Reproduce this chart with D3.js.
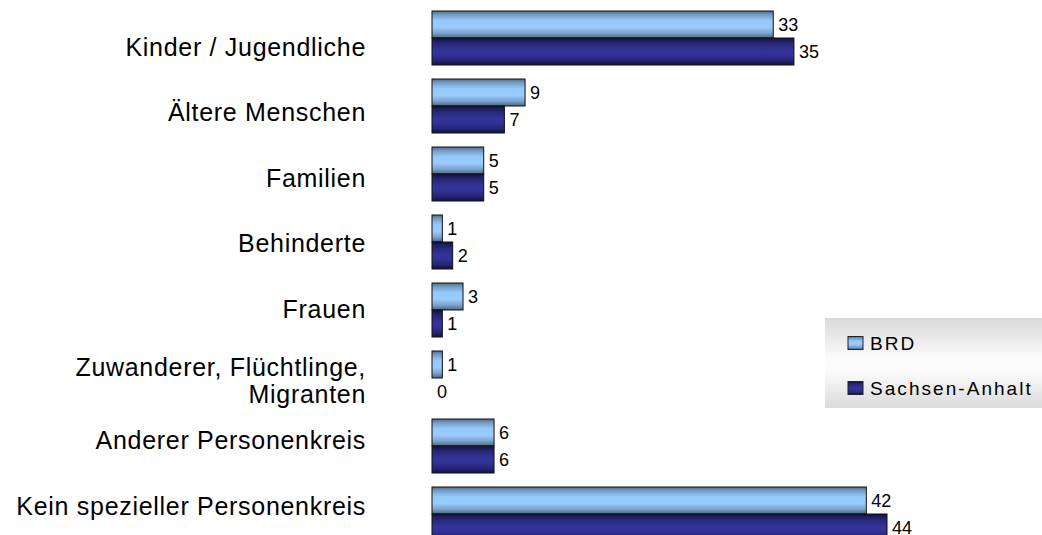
<!DOCTYPE html>
<html>
<head>
<meta charset="utf-8">
<script src="https://cdn.jsdelivr.net/npm/d3@7"></script>
<style>
  html, body { margin: 0; padding: 0; background: #ffffff; }
  svg { display: block; font-family: "Liberation Sans", Arial, sans-serif; }
</style>
</head>
<body>
<svg id="chart" width="1042" height="535"></svg>
<script>
const categories = [
  "Kinder / Jugendliche",
  "Ältere Menschen",
  "Familien",
  "Behinderte",
  "Frauen",
  "Zuwanderer, Flüchtlinge,\nMigranten",
  "Anderer Personenkreis",
  "Kein spezieller Personenkreis"
];
const seriesNames = ["BRD", "Sachsen-Anhalt"];
const brdValues = [33, 9, 5, 1, 3, 1, 6, 42];
const sachsenAnhaltValues = [35, 7, 5, 2, 1, 0, 6, 44];

const svg = d3.select("#chart");

const defs = svg.append("defs");
function vGrad(id, stops) {
  const g = defs.append("linearGradient").attr("id", id)
    .attr("x1", 0).attr("y1", 0).attr("x2", 0).attr("y2", 1);
  stops.forEach(s => g.append("stop").attr("offset", s[0]).attr("stop-color", s[1]));
}
vGrad("gBRD", [[0, "#4f6a86"], [0.12, "#7197bf"], [0.35, "#96c8fa"], [0.6, "#99ccff"], [0.82, "#7ba3cc"], [1, "#4a6580"]]);
vGrad("gSA", [[0, "#131340"], [0.2, "#272778"], [0.45, "#333399"], [0.65, "#313195"], [0.85, "#242470"], [1, "#121240"]]);
vGrad("gLegend", [[0, "#d9d9d9"], [0.45, "#fbfbfb"], [0.6, "#fbfbfb"], [1, "#dadada"]]);

const fills = { "BRD": "url(#gBRD)", "Sachsen-Anhalt": "url(#gSA)" };

const x = d3.scaleLinear().domain([0, 44]).range([432, 887]);
const y = d3.scaleBand().domain(categories).range([4, 4 + 68 * categories.length])
  .paddingInner(14 / 68).paddingOuter(7 / 68);
const ySub = d3.scaleBand().domain(seriesNames).range([0, y.bandwidth()]);
const yLabel = d3.scalePoint().domain(categories).range([47, 506]);

const rows = categories.map((c, i) => ({
  cat: c,
  vals: [
    { s: "BRD", v: brdValues[i] },
    { s: "Sachsen-Anhalt", v: sachsenAnhaltValues[i] }
  ]
}));

const g = svg.append("g");
const grp = g.selectAll("g.cat").data(rows).join("g")
  .attr("class", "cat")
  .attr("transform", d => `translate(0,${y(d.cat)})`);

grp.selectAll("rect").data(d => d.vals).join("rect")
  .attr("x", x(0))
  .attr("y", d => ySub(d.s))
  .attr("width", d => x(d.v) - x(0))
  .attr("height", ySub.bandwidth())
  .attr("fill", d => fills[d.s])
  .attr("stroke", d => d.v > 0 ? "#111" : "none")
  .attr("stroke-width", 1);

grp.selectAll("text.val").data(d => d.vals).join("text")
  .attr("class", "val")
  .attr("x", d => x(d.v) + 5)
  .attr("y", d => ySub(d.s) + ySub.bandwidth() / 2)
  .attr("dy", "0.35em")
  .attr("font-size", 18)
  .attr("fill", "#000")
  .text(d => d.v);

// Category labels
const lab = g.selectAll("text.cat").data(categories).join("text")
  .attr("class", "cat")
  .attr("text-anchor", "end")
  .attr("font-size", 25)
  .attr("letter-spacing", 0.7)
  .attr("fill", "#000")
  .attr("x", 366)
  .attr("y", d => yLabel(d));
lab.each(function(d) {
  const lines = d.split("\n");
  const t = d3.select(this);
  const lh = 26.3;
  lines.forEach((ln, k) => {
    t.append("tspan")
      .attr("x", 366)
      .attr("y", yLabel(d) + (k - (lines.length - 1) / 2) * lh + 6 * (lines.length - 1))
      .attr("dy", "0.35em")
      .text(ln);
  });
});

// Legend
const leg = svg.append("g").attr("transform", "translate(825,318)");
leg.append("rect").attr("x", 0).attr("y", 0).attr("width", 230).attr("height", 90)
  .attr("fill", "url(#gLegend)");
const legItems = leg.selectAll("g.item").data(seriesNames).join("g")
  .attr("class", "item")
  .attr("transform", (d, i) => `translate(23,${25 + i * 45})`);
legItems.append("rect").attr("x", 0).attr("y", -6.5).attr("width", 15).attr("height", 13)
  .attr("fill", d => fills[d]).attr("stroke", "#222").attr("stroke-width", 1);
legItems.append("text").attr("x", 22).attr("y", 0).attr("dy", "0.36em")
  .attr("font-size", 19).attr("letter-spacing", 2.05).attr("fill", "#000")
  .text(d => d);
</script>
</body>
</html>
